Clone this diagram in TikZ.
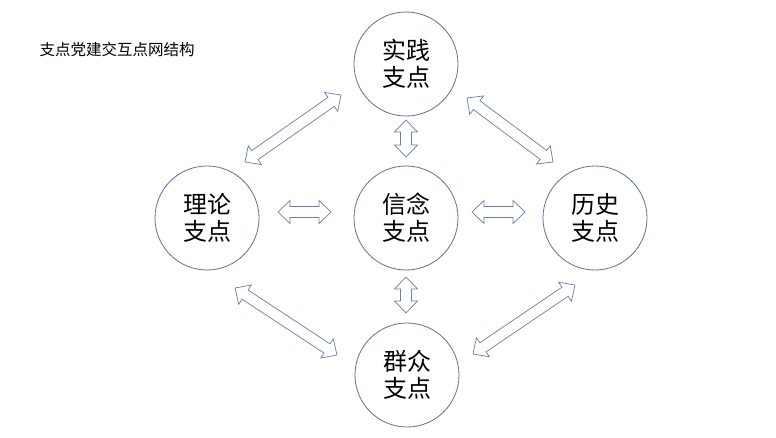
\documentclass[tikz,border=0pt]{standalone}
\usepackage{fontspec}
\newfontfamily\cjk{Noto Sans CJK SC}
\usetikzlibrary{calc}
\definecolor{ring}{RGB}{92,112,152}
\definecolor{arr}{RGB}{105,125,165}
\tikzset{
  pt/.style={circle,draw=ring,line width=0.8pt,minimum size=104pt,inner sep=0pt,
    font=\cjk\fontsize{24}{27}\selectfont,align=center},
  blk/.style={draw=arr,fill=white,line width=0.7pt,line join=miter}
}
\newcommand\blockarrow[2]{%
  \path let \p1=($(#2)-(#1)$) in \pgfextra{%
    \pgfmathsetmacro\tmpang{atan2(\y1,\x1)}%
    \pgfmathsetmacro\tmplen{veclen(\x1,\y1)}%
    \xdef\bang{\tmpang}\xdef\blen{\tmplen}};
  \begin{scope}[shift={(#1)},rotate=\bang,x=1pt,y=1pt]
    \draw[blk] (0,0) -- (12,11.5) -- (12,5.5) -- (\blen-12,5.5) -- (\blen-12,11.5)
      -- (\blen,0) -- (\blen-12,-11.5) -- (\blen-12,-5.5) -- (12,-5.5) -- (12,-11.5) -- cycle;
  \end{scope}}
\begin{document}
\begin{tikzpicture}[x=1pt,y=-1pt]
  \useasboundingbox (0,0) rectangle (776,437);
  \node[anchor=west,font=\cjk\fontsize{15.5}{18}\selectfont] (title) at (36,50) {支点党建交互点网结构};
  \node[pt] (T) at (406,64) {实践\\支点};
  \node[pt] (C) at (406,218) {信念\\支点};
  \node[pt] (L) at (207,218) {理论\\支点};
  \node[pt] (R) at (595,218) {历史\\支点};
  \node[pt] (B) at (407,375) {群众\\支点};
  \coordinate (tl1) at (245,162); \coordinate (tl2) at (341,95);
  \coordinate (tr1) at (467,98);  \coordinate (tr2) at (553,162);
  \coordinate (bl1) at (235,288); \coordinate (bl2) at (337,355);
  \coordinate (br1) at (473,354); \coordinate (br2) at (575,285);
  \coordinate (ct1) at (406,120); \coordinate (ct2) at (406,157);
  \coordinate (cb1) at (406,277); \coordinate (cb2) at (406,313);
  \coordinate (lh1) at (278,212); \coordinate (lh2) at (331,212);
  \coordinate (rh1) at (472,212); \coordinate (rh2) at (525,212);
  \blockarrow{tl1}{tl2}
  \blockarrow{tr1}{tr2}
  \blockarrow{bl1}{bl2}
  \blockarrow{br1}{br2}
  \blockarrow{ct1}{ct2}
  \blockarrow{cb1}{cb2}
  \blockarrow{lh1}{lh2}
  \blockarrow{rh1}{rh2}
\end{tikzpicture}
\end{document}
